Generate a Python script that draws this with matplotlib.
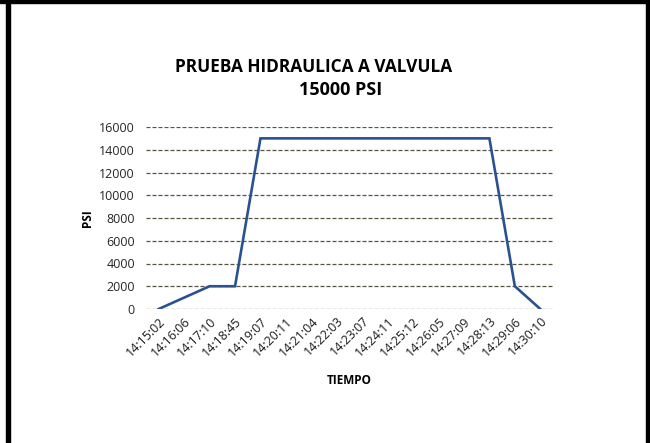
import matplotlib
matplotlib.use("Agg")
import matplotlib.pyplot as plt
from matplotlib.patches import Rectangle

# data
tiempos = ["14:15:02", "14:16:06", "14:17:10", "14:18:45", "14:19:07", "14:20:11",
           "14:21:04", "14:22:03", "14:23:07", "14:24:11", "14:25:12", "14:26:05",
           "14:27:09", "14:28:13", "14:29:06", "14:30:10"]
psi = [0, 1000, 2000, 2000, 15000, 15000, 15000, 15000, 15000, 15000, 15000,
       15000, 15000, 15000, 2000, 0]
y_ticks = [0, 2000, 4000, 6000, 8000, 10000, 12000, 14000, 16000]

plt.rcParams["font.family"] = ["Open Sans", "DejaVu Sans"]

W, H = 650, 443
fig = plt.figure(figsize=(6.5, 4.43), dpi=100)

# black frame pieces (left, top, right)
for x0, y0, w, h in [(6, 0, 4, 443), (0, 440, 650, 3), (646, 0, 4, 443)]:
    fig.patches.append(Rectangle((x0 / W, y0 / H), w / W, h / H,
                                 transform=fig.transFigure, color="black", zorder=0))

ax = fig.add_axes([146 / W, 1 - 309 / H, (553 - 146) / W, (309 - 127) / H])
x = range(len(tiempos))
ax.plot(x, psi, color="#2a5290", lw=1.9, solid_joinstyle="miter", zorder=3)

ax.set_xlim(-0.5, len(tiempos) - 0.5)
ax.set_ylim(0, 16000)
ax.set_yticks(y_ticks)
ax.set_yticklabels([str(v) for v in y_ticks], fontsize=9, color="#262626")
ax.set_xticks(list(x))
ax.set_xticklabels(tiempos, rotation=45, ha="right", rotation_mode="anchor",
                   fontsize=9, color="#1a1a1a")
ax.tick_params(length=0, pad=8)
ax.tick_params(axis="x", pad=4)
for s in ax.spines.values():
    s.set_visible(False)
ax.yaxis.grid(True, color="#55553f", linestyle=(0, (3.2, 1.6)), lw=0.9)
ax.set_axisbelow(True)

fig.text(175 / W, 1 - 67 / H, "PRUEBA HIDRAULICA A VALVULA", fontsize=12.4,
         fontweight="bold", ha="left", va="center")
fig.text(341 / W, 1 - 90 / H, "15000 PSI", fontsize=13,
         fontweight="bold", ha="center", va="center")
fig.text(88 / W, 1 - 218 / H, "PSI", fontsize=8.5, fontweight="bold",
         rotation=90, ha="center", va="center")
fig.text(349 / W, 1 - 381 / H, "TIEMPO", fontsize=8.5, fontweight="bold",
         ha="center", va="center")

fig.savefig("out.png", dpi=100, facecolor="white")
